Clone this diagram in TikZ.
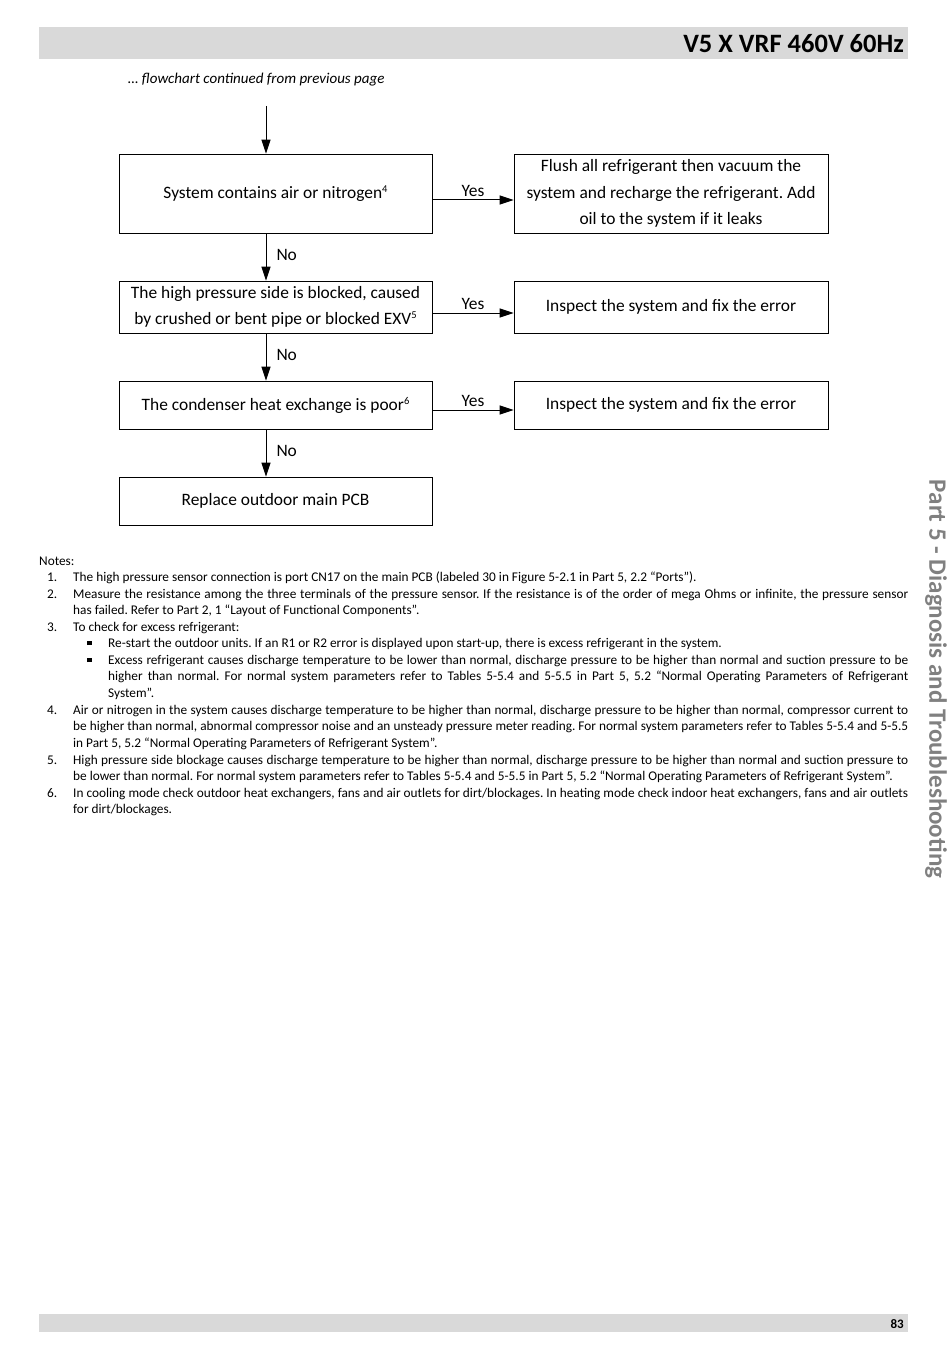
\documentclass[tikz,border=0pt]{standalone}
\usepackage{fontspec}
\setmainfont{Carlito}
\usetikzlibrary{calc,arrows.meta}
\definecolor{bargray}{HTML}{D9D9D9}
\definecolor{sidegray}{HTML}{808080}
\frenchspacing
\newcommand{\noteref}[1]{\raisebox{6pt}{\fontsize{10.5}{11}\selectfont #1}}

\begin{document}
\begin{tikzpicture}[x=1pt, y=-1pt,
        box/.style={draw=black, line width=0.8pt, fill=white, align=center,
                    minimum width=313pt, inner sep=0pt, font=\fontsize{17.4}{26.5}\selectfont},
        fix/.style={box, minimum width=314pt},
        arrow/.style={-{Triangle[length=14pt, width=9pt]}, draw=black, line width=1pt},
        lbl/.style={font=\fontsize{17.4}{20}\selectfont, inner sep=2pt},
        notenum/.style={anchor=base west, inner sep=0pt, font=\fontsize{13.3}{16.6}\selectfont},
        notetext/.style={anchor=base west, inner sep=0pt, text width=835pt, align=justify,
                         font=\fontsize{13.3}{16.6}\selectfont},
        bar/.style={fill=bargray, draw=none}
      ]
        \useasboundingbox (0,0) rectangle (950,1359);

        % header and footer bars
        \fill[bar] (39,27) rectangle (908,59);
        \node[anchor=base east, inner sep=0pt, font=\fontsize{26.5}{30}\selectfont\bfseries] (title) at (904,53) {V5 X VRF 460V 60Hz};
        \fill[bar] (39,1314) rectangle (908,1332);
        \node[anchor=base east, inner sep=0pt, font=\fontsize{13}{15}\selectfont\bfseries] (page) at (904,1328) {83};
        \node[rotate=-90, inner sep=0pt, text=sidegray, font=\fontsize{25}{28}\selectfont\bfseries] (side) at (936,679) {Part 5 - Diagnosis and Troubleshooting};

        \node[anchor=base west, inner sep=0pt, font=\fontsize{15}{18}\selectfont\itshape] (cont) at (128,84) {… flowchart continued from previous page};

        % flowchart
        \coordinate (spine) at (266,106);
        \node[box, minimum height=79pt] (q1) at (275.5,193.5) {System contains air or nitrogen\noteref{4}};
        \node[fix, minimum height=79pt] (a1) at (671,193.5) {Flush all refrigerant then vacuum the\\system and recharge the refrigerant. Add\\oil to the system if it leaks};
        \node[box, minimum height=52pt] (q2) at (275.5,307) {The high pressure side is blocked, caused\\by crushed or bent pipe or blocked EXV\noteref{5}};
        \node[fix, minimum height=52pt] (a2) at (671,307) {Inspect the system and fix the error};
        \node[box, minimum height=48pt] (q3) at (275.5,405) {The condenser heat exchange is poor\noteref{6}};
        \node[fix, minimum height=48pt] (a3) at (671,405) {Inspect the system and fix the error};
        \node[box, minimum height=48pt] (q4) at (275.5,501) {Replace outdoor main PCB};

        \draw[arrow] (spine) -- (spine |- q1.north);
        \draw[arrow] (q1.south -| spine) -- node[lbl, right=8pt, yshift=2pt] {No} (q2.north -| spine);
        \draw[arrow] (q2.south -| spine) -- node[lbl, right=8pt, yshift=2pt] {No} (q3.north -| spine);
        \draw[arrow] (q3.south -| spine) -- node[lbl, right=8pt, yshift=2pt] {No} (q4.north -| spine);

        \draw[arrow] ([yshift=-6.5pt]q1.east) -- node[lbl, above=1pt] {Yes} ([yshift=-6.5pt]a1.west);
        \draw[arrow] ([yshift=-6pt]q2.east) -- node[lbl, above=1pt] {Yes} ([yshift=-6pt]a2.west);
        \draw[arrow] ([yshift=-5pt]q3.east) -- node[lbl, above=1pt] {Yes} ([yshift=-5pt]a3.west);

        % notes
        \node[notenum] (notes) at (39,565) {Notes:};
        \node[notenum] (n1) at (47,581) {1.};
        \node[notetext] (t1) at (73,581) {The high pressure sensor connection is port CN17 on the main PCB (labeled 30 in Figure 5-2.1 in Part 5, 2.2 “Ports”).};
        \node[notenum] (n2) at (47,598) {2.};
        \node[notetext] (t2) at (73,598) {Measure the resistance among the three terminals of the pressure sensor. If the resistance is of the order of mega Ohms or infinite, the pressure sensor\linebreak has failed. Refer to Part 2, 1 “Layout of Functional Components”.};
        \node[notenum] (n3) at (47,631) {3.};
        \node[notetext] (t3) at (73,631) {To check for excess refrigerant:};
        \node[notenum] (b1) at (87,647) {\rule[2pt]{4.5pt}{4.5pt}};
        \node[notetext, text width=800pt] (t3a) at (108,647) {Re-start the outdoor units. If an R1 or R2 error is displayed upon start-up, there is excess refrigerant in the system.};
        \node[notenum] (b2) at (87,664) {\rule[2pt]{4.5pt}{4.5pt}};
        \node[notetext, text width=800pt] (t3b) at (108,664) {Excess refrigerant causes discharge temperature to be lower than normal, discharge pressure to be higher than normal and suction pressure to be\linebreak higher than normal. For normal system parameters refer to Tables 5-5.4 and 5-5.5 in Part 5, 5.2 “Normal Operating Parameters of Refrigerant\linebreak System”.};
        \node[notenum] (n4) at (47,714) {4.};
        \node[notetext] (t4) at (73,714) {Air or nitrogen in the system causes discharge temperature to be higher than normal, discharge pressure to be higher than normal, compressor current to\linebreak be higher than normal, abnormal compressor noise and an unsteady pressure meter reading. For normal system parameters refer to Tables 5-5.4 and 5-5.5\linebreak in Part 5, 5.2 “Normal Operating Parameters of Refrigerant System”.};
        \node[notenum] (n5) at (47,764) {5.};
        \node[notetext] (t5) at (73,764) {High pressure side blockage causes discharge temperature to be higher than normal, discharge pressure to be higher than normal and suction pressure to\linebreak be lower than normal. For normal system parameters refer to Tables 5-5.4 and 5-5.5 in Part 5, 5.2 “Normal Operating Parameters of Refrigerant System”.};
        \node[notenum] (n6) at (47,797) {6.};
        \node[notetext] (t6) at (73,797) {In cooling mode check outdoor heat exchangers, fans and air outlets for dirt/blockages. In heating mode check indoor heat exchangers, fans and air outlets\linebreak for dirt/blockages.};
      \end{tikzpicture}
\end{document}
